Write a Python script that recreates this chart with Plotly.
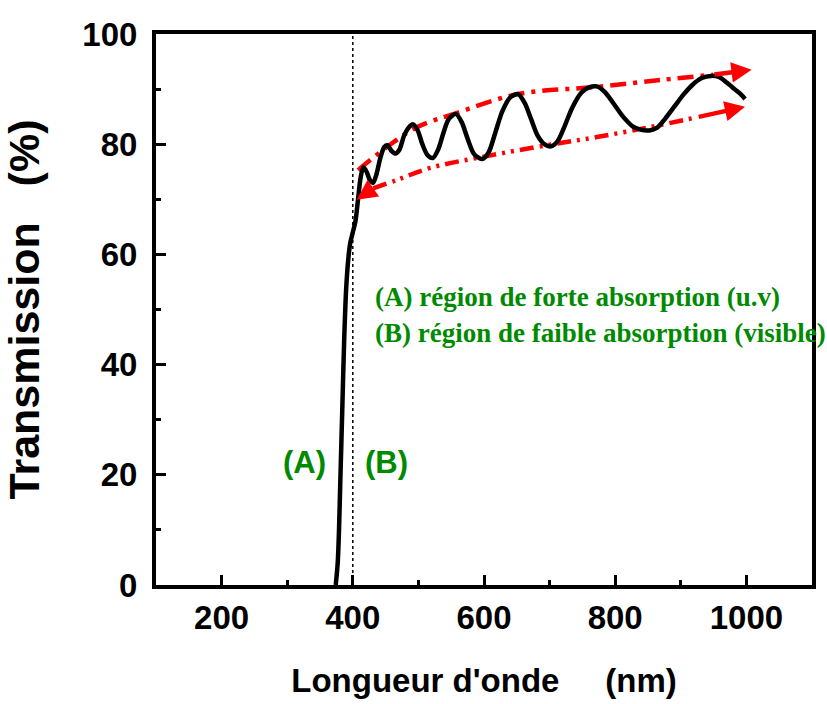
import plotly.graph_objects as go

# Transmission spectrum
wavelength = [374, 377, 379, 381, 384, 387, 390, 393, 396, 400, 404, 408, 412, 416, 421, 426, 431,
              436, 442, 448, 453, 459, 465, 471, 478, 485, 492, 499, 506, 514, 522, 530, 538, 546,
              557, 566, 575, 585, 597, 607, 617, 628, 640, 652, 662, 672, 682, 692, 702, 712, 722,
              734, 748, 760, 772, 784, 798, 812, 826, 840, 852, 864, 876, 890, 904, 918, 932, 946,
              958, 970, 982, 992, 998]
transmission = [0, 4, 10, 19, 32, 45, 54, 59, 62, 64, 66, 70, 74, 75.8, 75, 73.5, 73,
                74.5, 77.5, 79.5, 79.8, 78.8, 78.3, 79, 81.5, 83, 83.6, 82.5, 80, 78, 77.5, 79, 82, 84.5,
                85.5, 84, 81, 78.2, 77.3, 78.5, 82, 86, 88.5, 89.1, 87.5, 84.5, 81.5, 80, 79.6, 80.5, 83,
                86.5, 89.3, 90.3, 90.5, 89.5, 87.3, 85, 83.3, 82.6, 82.5, 83, 84.6, 86.8, 89, 90.8, 92, 92.4,
                92.2, 91.2, 90, 89, 88.2]

# Upper envelope (maxima)
upper_x = [408, 452, 498, 559, 652, 772, 873, 949, 1008]
upper_y = [75.3, 79.5, 83.1, 85.7, 89.1, 90.4, 91.7, 92.6, 93.5]
# Lower envelope (minima)
lower_x = [406, 431, 467, 518, 598, 700, 772, 853, 925, 998]
lower_y = [69.9, 72.0, 73.5, 75.7, 77.7, 79.9, 81.3, 83.1, 84.9, 86.8]

boundary_x = 400
x_ticks = [200, 400, 600, 800, 1000]
y_ticks = [0, 20, 40, 60, 80, 100]

sans = "Liberation Sans, Arial, sans-serif"
serif = "Liberation Serif, Times New Roman, serif"
green = "#008a00"
red = "#ff0000"

fig = go.Figure()

fig.add_trace(go.Scatter(x=[boundary_x, boundary_x], y=[0, 100], mode="lines",
                         line=dict(color="black", width=1.5, dash="dot"), showlegend=False))
fig.add_trace(go.Scatter(x=upper_x[:-1], y=upper_y[:-1], mode="lines", line_shape="spline",
                         line=dict(color=red, width=4.5, dash="16px,7px,4px,7px"), showlegend=False))
fig.add_trace(go.Scatter(x=lower_x[1:-1], y=lower_y[1:-1], mode="lines", line_shape="spline",
                         line=dict(color=red, width=4.5, dash="14px,6px,3px,6px,3px,6px"), showlegend=False))
fig.add_trace(go.Scatter(x=wavelength, y=transmission, mode="lines", line_shape="spline",
                         line=dict(color="black", width=4.5, smoothing=0.8), showlegend=False))

# arrowheads on envelopes
for (tx, ty, sx, sy) in [(upper_x[-1], upper_y[-1], upper_x[-2], upper_y[-2]),
                         (lower_x[-1], lower_y[-1], lower_x[-2], lower_y[-2]),
                         (lower_x[0], lower_y[0], lower_x[1], lower_y[1])]:
    fig.add_annotation(x=tx, y=ty, ax=sx, ay=sy, xref="x", yref="y", axref="x", ayref="y",
                       text="", showarrow=True, arrowhead=2, arrowsize=0.9, arrowwidth=4.5,
                       arrowcolor=red, standoff=0)

fig.add_annotation(x=327, y=22.3, xref="x", yref="y", text="(A)", showarrow=False,
                   font=dict(family=sans, size=31, color=green, weight="bold"))
fig.add_annotation(x=452, y=22.3, xref="x", yref="y", text="(B)", showarrow=False,
                   font=dict(family=sans, size=31, color=green, weight="bold"))
fig.add_annotation(x=431, y=52.3, xref="x", yref="y", xanchor="left", showarrow=False,
                   text="(A) région de forte absorption (u.v)",
                   font=dict(family=serif, size=27, color=green, weight="bold"))
fig.add_annotation(x=431, y=45.7, xref="x", yref="y", xanchor="left", showarrow=False,
                   text="(B) région de faible absorption (visible)",
                   font=dict(family=serif, size=27, color=green, weight="bold"))

sp = "\u00a0"
fig.update_layout(
    width=827, height=704,
    margin=dict(l=156, r=15, t=34, b=119),
    plot_bgcolor="white", paper_bgcolor="white",
    xaxis=dict(range=[100, 1100], tickvals=x_ticks, ticks="inside", ticklen=10, tickwidth=3,
               tickcolor="black", showline=True, linewidth=4, linecolor="black", mirror=True,
               showgrid=False, zeroline=False, automargin=False,
               minor=dict(ticks="inside", ticklen=5, tickwidth=3, dtick=100, tickcolor="black"),
               tickfont=dict(family=sans, size=33, color="black", weight="bold"),
               title=dict(text="Longueur d'onde" + sp * 5 + "(nm)", standoff=35,
                          font=dict(family=sans, size=33, color="black", weight="bold"))),
    yaxis=dict(range=[0, 100], tickvals=y_ticks, ticks="inside", ticklen=10, tickwidth=3,
               tickcolor="black", showline=True, linewidth=4, linecolor="black", mirror=True,
               showgrid=False, zeroline=False, automargin=False,
               minor=dict(ticks="inside", ticklen=5, tickwidth=3, dtick=10, tickcolor="black"),
               tickfont=dict(family=sans, size=33, color="black", weight="bold"),
               ticklabelstandoff=8,
               title=dict(text="Transmission" + sp * 3 + "(%)", standoff=40,
                          font=dict(family=sans, size=43, color="black", weight="bold"))),
)

fig.write_html("out.html")
